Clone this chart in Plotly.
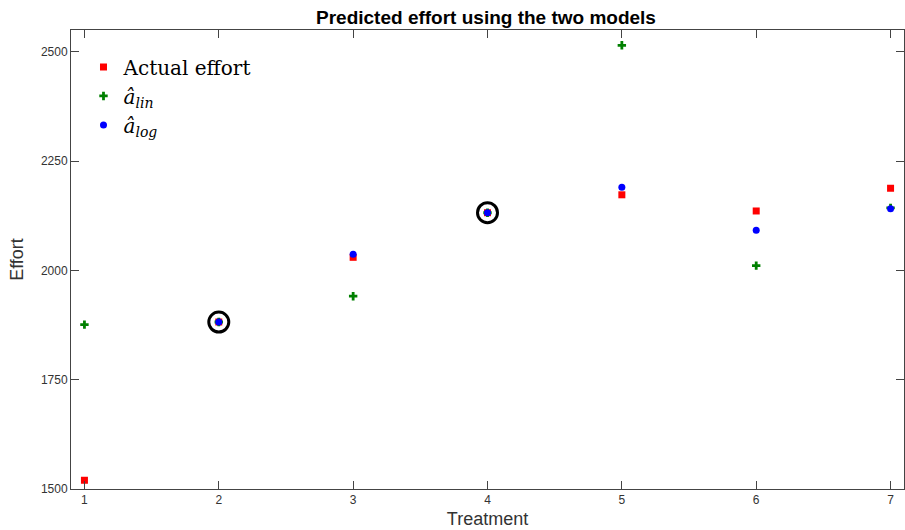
import plotly.graph_objects as go

treatment = [1, 2, 3, 4, 5, 6, 7]
actual_effort = [1520, 1882, 2030, 2132, 2173, 2136, 2188]
a_lin = [1876, 1882, 1941, 2132, 2515, 2011, 2143]
a_log = [None, 1882, 2037, 2132, 2190, 2092, 2141]
circled_x = [2, 4]
circled_y = [1882, 2132]

fig = go.Figure()
fig.add_trace(go.Scatter(x=treatment, y=actual_effort, mode="markers", name="Actual effort",
                         marker=dict(symbol="square", color="red", size=7)))
fig.add_trace(go.Scatter(x=treatment, y=a_lin, mode="markers",
                         name="<i>â</i><sub><i>lin</i></sub>",
                         marker=dict(symbol="cross", color="green", size=7)))
fig.add_trace(go.Scatter(x=treatment, y=a_log, mode="markers",
                         name="<i>â</i><sub><i>log</i></sub>",
                         marker=dict(symbol="circle", color="blue", size=7)))
fig.add_trace(go.Scatter(x=circled_x, y=circled_y, mode="markers", showlegend=False,
                         marker=dict(symbol="circle-open", color="black", size=20,
                                     line=dict(width=3, color="black"))))

axis_common = dict(showgrid=False, zeroline=False, showline=True, linecolor="#444",
                   linewidth=1, mirror="ticks", ticks="inside", ticklen=8,
                   tickcolor="#444", tickfont=dict(family="Liberation Sans", size=12, color="#333"))

fig.update_layout(
    width=905, height=530,
    margin=dict(l=71, r=1, t=30, b=41),
    paper_bgcolor="white", plot_bgcolor="white",
    title=dict(text="<b>Predicted effort using the two models</b>", x=0.537, y=0.968,
               xanchor="center", yanchor="middle",
               font=dict(family="Liberation Sans", size=19, color="black")),
    xaxis=dict(range=[0.9, 7.1], tickvals=treatment,
               title=dict(text="Treatment", standoff=5,
                          font=dict(family="Liberation Sans", size=18, color="#333")),
               **axis_common),
    yaxis=dict(range=[1500, 2550], tickvals=[1500, 1750, 2000, 2250, 2500],
               title=dict(text="Effort", standoff=12,
                          font=dict(family="Liberation Sans", size=18, color="#333")),
               **axis_common),
    legend=dict(x=0.015, y=0.962, xanchor="left", yanchor="top", bgcolor="rgba(0,0,0,0)",
                font=dict(family="DejaVu Serif", size=20, color="black"),
                itemwidth=30, tracegroupgap=0),
)

fig.write_html("out.html")
